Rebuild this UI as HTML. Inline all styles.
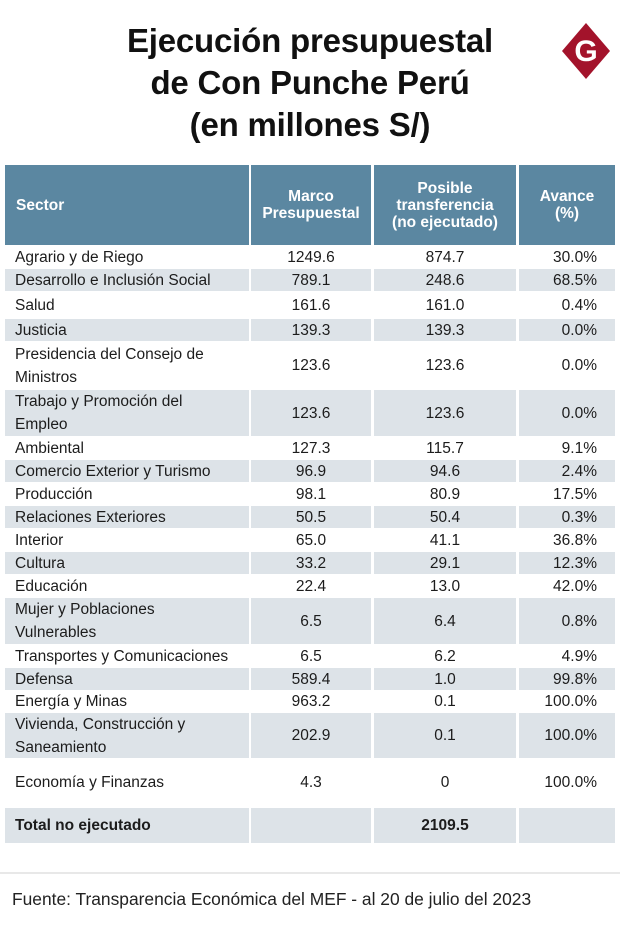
<!DOCTYPE html>
<html><head><meta charset="utf-8">
<style>
html,body{margin:0;padding:0;background:#fff;}
body{width:620px;height:938px;position:relative;overflow:hidden;font-family:"Liberation Sans",sans-serif;color:#1c1c1c;}
.title{position:absolute;left:0;width:620px;top:20px;text-align:center;font-weight:bold;font-size:33px;line-height:42px;letter-spacing:-0.2px;color:#111;}
.cell{position:absolute;box-sizing:border-box;font-size:15.5px;display:flex;align-items:center;line-height:23px;}
.hd{background:#5b87a1;color:#fff;font-weight:bold;font-size:15.5px;line-height:17px;text-align:center;justify-content:center;}
.g{background:#dde3e8;}
.c1{padding-left:10px;}
.c2,.c3{justify-content:center;}
.c4{justify-content:flex-end;padding-right:18px;}
.foot-line{position:absolute;left:0;width:620px;top:872px;height:2px;background:#e8e8e8;}
.foot{position:absolute;left:12px;top:889px;font-size:17.4px;color:#222;}
</style></head>
<body>
<div class="title">Ejecución presupuestal<br>de Con Punche Perú<br>(en millones S/)</div>
<svg style="position:absolute;left:561px;top:22px" width="50" height="58">
<polygon points="25,1 49,29 25,57 1,29" fill="#a3132b"/>
<text x="25" y="39" text-anchor="middle" font-family="Liberation Sans" font-weight="bold" font-size="30" fill="#fff">G</text>
</svg>
<div id="tbl"></div>
<div class="foot-line"></div>
<div class="foot">Fuente: Transparencia Económica del MEF - al 20 de julio del 2023</div>
<script>
const sectors=["Agrario y de Riego","Desarrollo e Inclusión Social","Salud","Justicia","Presidencia del Consejo de<br>Ministros","Trabajo y Promoción del<br>Empleo","Ambiental","Comercio Exterior y Turismo","Producción","Relaciones Exteriores","Interior","Cultura","Educación","Mujer y Poblaciones<br>Vulnerables","Transportes y Comunicaciones","Defensa","Energía y Minas","Vivienda, Construcción y<br>Saneamiento","Economía y Finanzas"];
const marco=["1249.6","789.1","161.6","139.3","123.6","123.6","127.3","96.9","98.1","50.5","65.0","33.2","22.4","6.5","6.5","589.4","963.2","202.9","4.3"];
const transfer=["874.7","248.6","161.0","139.3","123.6","123.6","115.7","94.6","80.9","50.4","41.1","29.1","13.0","6.4","6.2","1.0","0.1","0.1","0"];
const avance=["30.0%","68.5%","0.4%","0.0%","0.0%","0.0%","9.1%","2.4%","17.5%","0.3%","36.8%","12.3%","42.0%","0.8%","4.9%","99.8%","100.0%","100.0%","100.0%"];
const totalLabel="Total no ejecutado", totalValue="2109.5";
const headers=["Sector","Marco<br>Presupuestal","Posible<br>transferencia<br>(no ejecutado)","Avance<br>(%)"];
const colX=[5,251,374,519], colW=[244,120,142,96];
const rowTops=[246,268,291,318,341,389,436,459,482,505,528,551,574,597,644,667,690,712,758,806,843];
const tbl=document.getElementById('tbl');
function cell(x,y,w,h,cls,html,name){
  const d=document.createElement('div');
  d.className='cell '+cls;
  d.style.left=x+'px';d.style.top=y+'px';d.style.width=w+'px';d.style.height=h+'px';
  d.innerHTML=html;
  
  
  tbl.appendChild(d);
}
headers.forEach((h,i)=>{
  cell(colX[i],165,colW[i],80,'hd'+(i===0?' c1':''),h,'header-'+(i+1));
  if(i===0){tbl.lastChild.style.justifyContent='flex-start';tbl.lastChild.style.paddingLeft='11px';}
});
sectors.forEach((s,r)=>{
  const y=rowTops[r]+1,h=rowTops[r+1]-rowTops[r]-1,g=(r%2===1)?' g':'';
  const vals=[s,marco[r],transfer[r],avance[r]];
  vals.forEach((v,i)=>cell(colX[i],y,colW[i],h,'c'+(i+1)+g,v,'row-'+(r+1)+'-col-'+(i+1)));
});
const ty=808,th=35;
cell(colX[0],ty,colW[0],th,'c1 g','<b>'+totalLabel+'</b>','total-label');
cell(colX[1],ty,colW[1],th,'c2 g','','total-marco');
cell(colX[2],ty,colW[2],th,'c3 g','<b>'+totalValue+'</b>','total-value');
cell(colX[3],ty,colW[3],th,'c4 g','','total-avance');
</script>
</body></html>
